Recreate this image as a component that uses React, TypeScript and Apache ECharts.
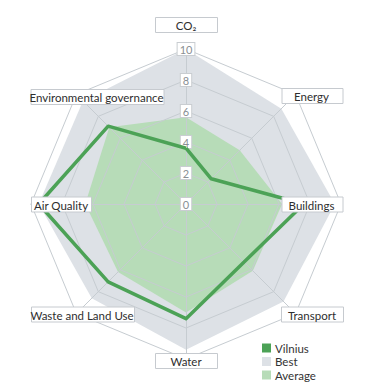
import React, { useEffect, useRef } from "react";
import * as echarts from "echarts";

// Categories in clockwise order starting from the top
const categories = [
  "CO₂",
  "Energy",
  "Buildings",
  "Transport",
  "Water",
  "Waste and Land Use",
  "Air Quality",
  "Environmental governance",
];
const vilnius = [3.6, 2.3, 7.6, 5.3, 7.4, 7.1, 9.5, 7.1];
const best = [10, 8.7, 9.6, 8.9, 9.4, 8.6, 9.5, 9.4];
const average = [5.6, 4.9, 6.2, 6.1, 7.0, 6.2, 6.5, 7.0];
const seriesNames = ["Vilnius", "Best", "Average"];
const axisMax = 10;
const axisSplits = 5;

// layout (label boxes: center x, center y, width)
const CX = 186;
const CY = 204;
const R = 155;
const labelBoxes: [number, number, number][] = [
  [186, 25, 62],
  [311.5, 96, 61],
  [311.5, 204.5, 61],
  [312, 314.5, 62],
  [186, 361, 62],
  [82, 314.5, 103],
  [61, 204.5, 60],
  [96.5, 97, 133],
];

const FONT = "Lato, 'DejaVu Sans', sans-serif";
const GRID = "#c6ccd1";
const C_VIL = "#4ca256";
const C_BEST = "#dde1e6";
const C_AVG = "#b7dcb8";

// ECharts places indicators counter-clockwise; reorder clockwise data
const ccw = (arr: any[]) => [arr[0], ...arr.slice(1).reverse()];

export default function App() {
  const ref = useRef<HTMLDivElement>(null);
  useEffect(() => {
    if (!ref.current) return;
    const chart = echarts.init(ref.current, null, { renderer: "svg" });
    const indicator = ccw(categories).map((name, i) => {
      const o: any = { name, max: axisMax, min: 0 };
      if (i === 0) {
        o.axisLabel = {
          show: true,
          margin: 0,
          align: "center",
          verticalAlign: "middle",
          color: "#8a8f94",
          fontSize: 11,
          fontFamily: FONT,
          backgroundColor: "#fff",
          borderColor: "#c9cdd1",
          borderWidth: 1,
          padding: [1, 2, 0, 2],
          hideOverlap: false,
        };
      }
      return o;
    });
    const graphic = categories.map((name, i) => {
      const [x, y, w] = labelBoxes[i];
      return {
        type: "group",
        x,
        y,
        z: 100,
        children: [
          {
            type: "rect",
            z: 100,
            shape: { x: Math.round(-w / 2) + 0.5, y: -7.5, width: w, height: 15 },
            style: { fill: "#fff", stroke: "#c6cacf", lineWidth: 1 },
          },
          {
            type: "text",
            z: 101,
            style: {
              text: name,
              x: 0,
              y: 0.5,
              align: "center",
              verticalAlign: "middle",
              fill: "#2e2e2e",
              fontSize: 11.5,
              fontFamily: FONT,
            },
          },
        ],
      };
    });
    chart.setOption({
      animation: false,
      backgroundColor: "#fff",
      textStyle: { fontFamily: FONT },
      legend: {
        orient: "vertical",
        left: 257,
        top: 337,
        icon: "rect",
        itemWidth: 9,
        itemHeight: 9,
        itemGap: 1.5,
        textStyle: {
          fontSize: 11.5,
          lineHeight: 11,
          color: "#333",
          fontFamily: FONT,
          padding: [0, 0, 0, -1],
        },
        data: [
          { name: seriesNames[0], itemStyle: { color: C_VIL } },
          { name: seriesNames[1], itemStyle: { color: C_BEST } },
          { name: seriesNames[2], itemStyle: { color: C_AVG } },
        ],
      },
      radar: {
        center: [CX, CY],
        radius: R,
        startAngle: 90,
        shape: "polygon",
        splitNumber: axisSplits,
        z: 3,
        indicator,
        axisName: { show: false },
        axisLabel: { show: false },
        axisTick: { show: false },
        axisLine: { lineStyle: { color: GRID, width: 1 } },
        splitLine: { lineStyle: { color: GRID, width: 1 } },
        splitArea: { show: false },
      },
      graphic,
      series: [
        {
          type: "radar",
          z: 2,
          symbol: "none",
          data: [
            {
              name: seriesNames[1],
              value: ccw(best),
              itemStyle: { color: C_BEST },
              lineStyle: { width: 0, color: C_BEST },
              areaStyle: { color: C_BEST, opacity: 1 },
            },
            {
              name: seriesNames[2],
              value: ccw(average),
              itemStyle: { color: C_AVG },
              lineStyle: { width: 0, color: C_AVG },
              areaStyle: { color: C_AVG, opacity: 1 },
            },
          ],
        },
        {
          type: "radar",
          z: 4,
          symbol: "none",
          data: [
            {
              name: seriesNames[0],
              value: ccw(vilnius),
              itemStyle: { color: C_VIL },
              lineStyle: { width: 3.5, color: C_VIL, join: "round" },
            },
          ],
        },
      ],
    });
    return () => chart.dispose();
  }, []);
  return (
    <div
      ref={ref}
      style={{ position: "absolute", left: 0, top: 0, width: 366, height: 390 }}
    />
  );
}
